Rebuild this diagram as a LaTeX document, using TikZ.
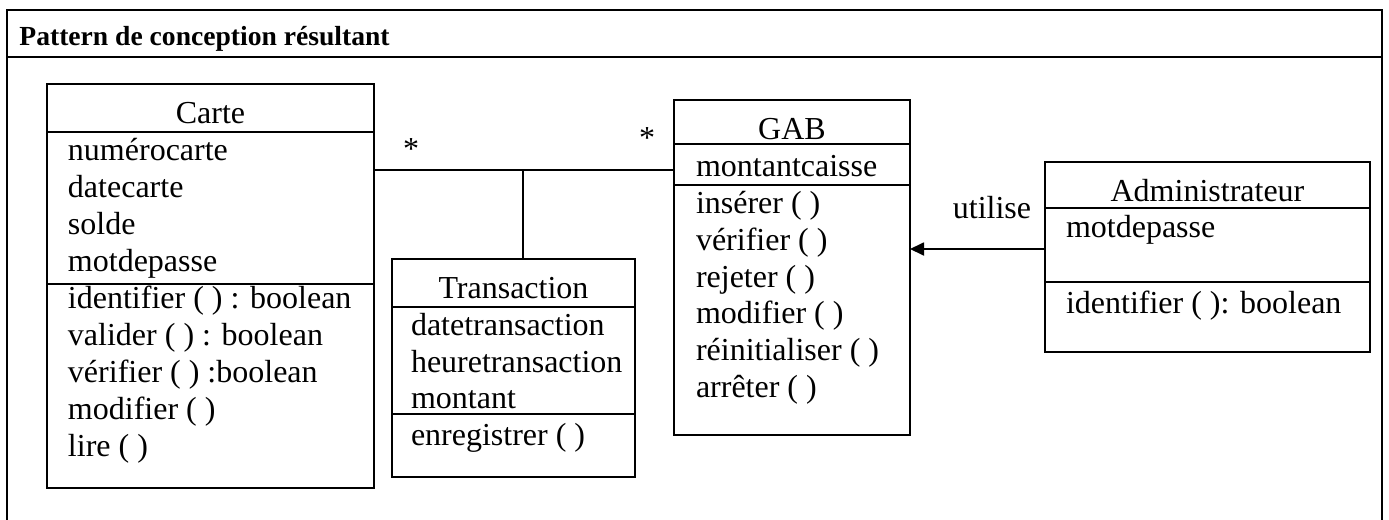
\documentclass[tikz,border=0pt]{standalone}
\usepackage{fontspec}
\setmainfont{Liberation Serif}
\usetikzlibrary{arrows.meta}
\begin{document}
\begin{tikzpicture}[x=0.5pt,y=-0.5pt,
  classbox/.style={draw, line width=0.9pt, inner sep=0pt, outer sep=0pt, anchor=north west},
  sepline/.style={line width=0.9pt},
  frameline/.style={line width=0.6pt},
  txt/.style={inner sep=0pt, outer sep=0pt, anchor=base west, font=\fontsize{16}{18}\selectfont},
  ctxt/.style={txt, anchor=base},
  assoc/.style={line width=0.9pt},
  uses/.style={line width=0.9pt, -{Triangle[length=7pt,width=6.5pt]}},
]
\useasboundingbox (0,0) rectangle (1389,520);
% frame
\draw[frameline] (7,540) -- (7,10) -- (1382,10) -- (1382,540);
\draw[frameline] (7,57) -- (1382,57);
\node[inner sep=0pt, anchor=base west, font=\fontsize{13.8}{16}\selectfont\bfseries] (title) at (19,45) {Pattern de conception résultant};

% Carte
\node[classbox, minimum width=163.5pt, minimum height=202pt] (carte) at (47,84) {};
\draw[sepline] (carte.west |- 0,132) -- (carte.east |- 0,132);
\draw[sepline] (carte.west |- 0,284) -- (carte.east |- 0,284);
\node[ctxt] (carteN) at (210.5,123) {Carte};
\node[txt] (c1) at (68,160) {numérocarte};
\node[txt] (c2) at (68,197) {datecarte};
\node[txt] (c3) at (68,234) {solde};
\node[txt] (c4) at (68,271) {motdepasse};
\node[txt] (c5) at (68,308) {identifier ( ) : boolean};
\node[txt] (c6) at (68,345) {valider ( ) : boolean};
\node[txt] (c7) at (68,382) {vérifier ( ) :boolean};
\node[txt] (c8) at (68,419) {modifier ( )};
\node[txt] (c9) at (68,456) {lire ( )};

% Transaction
\node[classbox, minimum width=121.5pt, minimum height=109pt] (trans) at (392,259) {};
\draw[sepline] (trans.west |- 0,307) -- (trans.east |- 0,307);
\draw[sepline] (trans.west |- 0,414) -- (trans.east |- 0,414);
\node[ctxt] (transN) at (513.5,298) {Transaction};
\node[txt] (t1) at (411,335) {datetransaction};
\node[txt] (t2) at (411,372) {heuretransaction};
\node[txt] (t3) at (411,408) {montant};
\node[txt] (t4) at (411,445) {enregistrer ( )};

% GAB
\node[classbox, minimum width=118pt, minimum height=167.5pt] (gab) at (674,100) {};
\draw[sepline] (gab.west |- 0,144) -- (gab.east |- 0,144);
\draw[sepline] (gab.west |- 0,185) -- (gab.east |- 0,185);
\node[ctxt] (gabN) at (792,139) {GAB};
\node[txt] (g1) at (696,176) {montantcaisse};
\node[txt] (g2) at (696,213) {insérer ( )};
\node[txt] (g3) at (696,250) {vérifier ( )};
\node[txt] (g4) at (696,287) {rejeter ( )};
\node[txt] (g5) at (696,323) {modifier ( )};
\node[txt] (g6) at (696,360) {réinitialiser ( )};
\node[txt] (g7) at (696,397) {arrêter ( )};

% Administrateur
\node[classbox, minimum width=162.5pt, minimum height=95pt] (admin) at (1045,162) {};
\draw[sepline] (admin.west |- 0,208) -- (admin.east |- 0,208);
\draw[sepline] (admin.west |- 0,282) -- (admin.east |- 0,282);
\node[ctxt] (adminN) at (1207.5,201) {Administrateur};
\node[txt] (a1) at (1066,237) {motdepasse};
\node[txt] (a2) at (1066,313) {identifier ( ): boolean};

% association Carte - GAB with Transaction
\coordinate (junc) at (523,170);
\draw[assoc] (carte.east |- junc) -- (gab.west |- junc);
\draw[assoc] (junc) -- (junc |- trans.north);
\node[ctxt] (star1) at (411,159) {*};
\node[ctxt] (star2) at (647,148) {*};

% utilise
\draw[uses] (admin.west |- 0,249) -- (gab.east |- 0,249);
\node[ctxt] (uselbl) at (992,218) {utilise};
\end{tikzpicture}
\end{document}
